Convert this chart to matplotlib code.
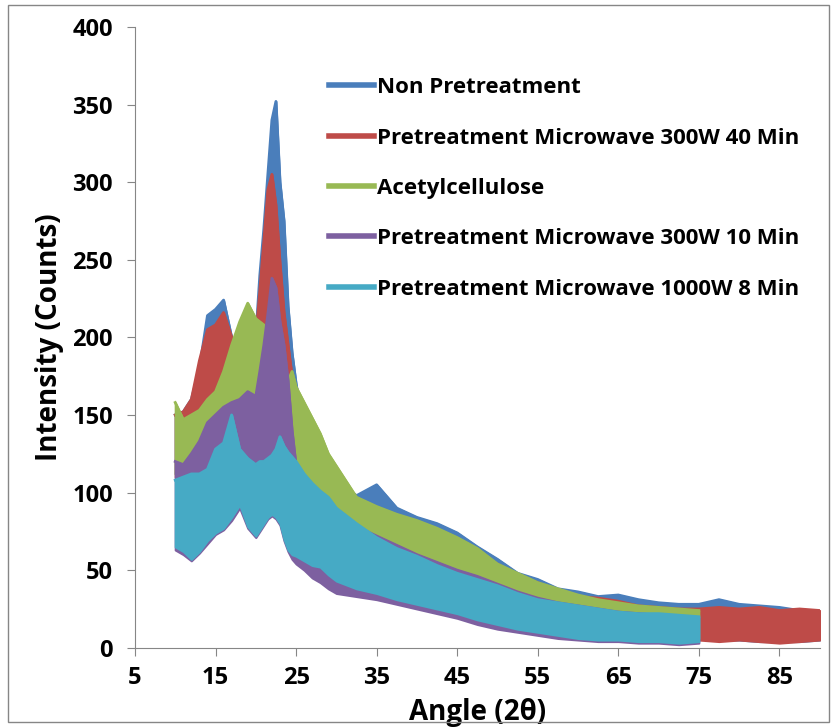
import numpy as np
import matplotlib.pyplot as plt
from matplotlib.patches import Rectangle

plt.rcParams['font.family'] = ['Open Sans', 'DejaVu Sans']
plt.rcParams['font.weight'] = 'bold'

# Winkel-Raster (2 theta), fein um den Hauptpeak
angle = [10, 11, 12, 13, 14, 15, 16, 17, 18, 19, 20,
         20.5, 21, 21.5, 22, 22.5, 23, 23.5, 24, 24.5, 25,
         26, 27, 28, 29, 30,
         32.5, 35, 37.5, 40, 42.5, 45, 47.5, 50, 52.5, 55, 57.5, 60,
         62.5, 65, 67.5, 70, 72.5, 75, 77.5, 80, 82.5, 85, 87.5, 90]

# obere / untere Huellkurve des Rauschbands je Probe
non_hi = [150, 152, 160, 180, 214, 218, 224, 200, 185, 180, 200,
          240, 270, 305, 340, 352, 300, 275, 220, 190, 170,
          140, 125, 118, 112, 108,
          98, 105, 90, 84, 80, 74, 65, 57, 48, 44, 38, 36,
          33, 34, 31, 29, 28, 28, 31, 28, 27, 26, 24, 22]
non_lo = [112, 112, 115, 120, 128, 132, 135, 138, 140, 138, 136,
          138, 140, 142, 140, 136, 130, 120, 110, 100, 90,
          75, 68, 62, 56, 52,
          46, 42, 38, 34, 30, 27, 24, 20, 17, 14, 12, 10,
          9, 8, 7, 7, 6, 6, 5, 5, 4, 4, 4, 5]

mw40_hi = [150, 152, 160, 185, 205, 208, 216, 200, 180, 175, 200,
           230, 262, 295, 305, 285, 248, 216, 195, 175, 160,
           128, 118, 112, 106, 100,
           92, 88, 82, 78, 73, 67, 60, 54, 46, 42, 36, 33,
           32, 30, 27, 26, 25, 25, 26, 25, 26, 24, 25, 24]
mw40_lo = [110, 112, 118, 125, 135, 140, 140, 140, 140, 138, 136,
           138, 140, 142, 140, 136, 128, 118, 108, 98, 88,
           72, 65, 58, 52, 48,
           42, 38, 35, 31, 28, 25, 22, 18, 15, 12, 10, 8,
           7, 6, 6, 5, 5, 5, 4, 5, 4, 3, 4, 5]

acetyl_hi = [158, 147, 150, 153, 160, 165, 178, 195, 210, 222, 212,
             210, 208, 200, 185, 180, 175, 172, 172, 178, 168,
             158, 148, 138, 125, 117,
             97, 91, 86, 82, 77, 71, 64, 54, 48, 42, 38, 34,
             31, 29, 27, 26, 25, 24]
acetyl_lo = [112, 113, 118, 125, 135, 140, 145, 145, 142, 140, 145,
             148, 150, 155, 150, 142, 135, 128, 120, 110, 105,
             97, 91, 86, 82, 75,
             65, 56, 49, 44, 38, 33, 29, 25, 20, 16, 14, 12,
             10, 8, 7, 7, 6, 6]

mw10_hi = [120, 118, 125, 133, 145, 150, 155, 158, 160, 165, 162,
           178, 195, 215, 238, 232, 210, 195, 172, 140, 117,
           108, 105, 100, 95, 88,
           78, 72, 66, 60, 55, 50, 46, 41, 36, 32, 29, 27,
           25, 23, 22, 21, 20, 19]
mw10_lo = [63, 60, 56, 61, 67, 73, 76, 82, 90, 77, 71,
           75, 79, 83, 85, 83, 79, 69, 62, 57, 54,
           50, 45, 42, 38, 35,
           33, 31, 28, 25, 22, 19, 15, 12, 10, 8, 6, 5,
           4, 4, 3, 3, 2, 3]

mw1000_hi = [108, 110, 112, 112, 115, 128, 132, 150, 128, 122, 118,
             120, 120, 122, 124, 128, 136, 130, 126, 123, 120,
             112, 106, 101, 97, 90,
             80, 71, 64, 59, 53, 48, 44, 40, 35, 31, 29, 27,
             25, 23, 22, 22, 21, 20]
mw1000_lo = [65, 62, 57, 62, 69, 74, 77, 84, 92, 78, 72,
             76, 80, 84, 86, 84, 80, 70, 63, 60, 59,
             56, 53, 52, 47, 43,
             38, 35, 31, 28, 25, 22, 18, 15, 12, 10, 8, 6,
             5, 5, 4, 4, 3, 4]

series = [
    ("Non Pretreatment", non_hi, non_lo, "#4A7EBB"),
    ("Pretreatment Microwave 300W 40 Min", mw40_hi, mw40_lo, "#BE4B48"),
    ("Acetylcellulose", acetyl_hi, acetyl_lo, "#98B954"),
    ("Pretreatment Microwave 300W 10 Min", mw10_hi, mw10_lo, "#7D60A0"),
    ("Pretreatment Microwave 1000W 8 Min", mw1000_hi, mw1000_lo, "#46AAC5"),
]

fig = plt.figure(figsize=(8.33, 7.27), dpi=100)
ax = fig.add_axes([0.162, 0.109, 0.822, 0.854])

for i, (name, hi, lo, col) in enumerate(series):
    x = np.array(angle[:len(hi)])
    ax.fill_between(x, lo, hi, color=col, lw=1.5, edgecolor=col, zorder=2 + i)
    ax.plot(x, hi, color=col, lw=2, label=name, zorder=2 + i)

ax.set_xlim(5, 90)
ax.set_ylim(0, 400)
ax.set_xticks(range(5, 90, 10))
ax.set_yticks(range(0, 401, 50))
for s in ['top', 'right']:
    ax.spines[s].set_visible(False)
for s in ['left', 'bottom']:
    ax.spines[s].set_color('#868686')
    ax.spines[s].set_zorder(10)
ax.tick_params(direction='out', length=6, color='#868686', labelsize=17, pad=7)
ax.tick_params(axis='y', pad=10)
ax.set_xlabel('Angle (2θ)', fontsize=20, fontweight='bold', labelpad=6)
ax.set_ylabel('Intensity (Counts)', fontsize=20, fontweight='bold', labelpad=6)

leg = ax.legend(loc='upper left', bbox_to_anchor=(0.283, 0.919), frameon=False,
                fontsize=16, handlelength=2.05, handletextpad=0.13,
                labelspacing=1.32, borderpad=0, borderaxespad=0)
for h in leg.legend_handles:
    h.set_linewidth(4)

# Rahmen um das ganze Diagramm
fig.patches.append(Rectangle((8 / 833, 5 / 727), 821 / 833, 717 / 727,
                             transform=fig.transFigure, fill=False,
                             edgecolor='#868686', lw=1))

fig.savefig('out.png', dpi=100)
